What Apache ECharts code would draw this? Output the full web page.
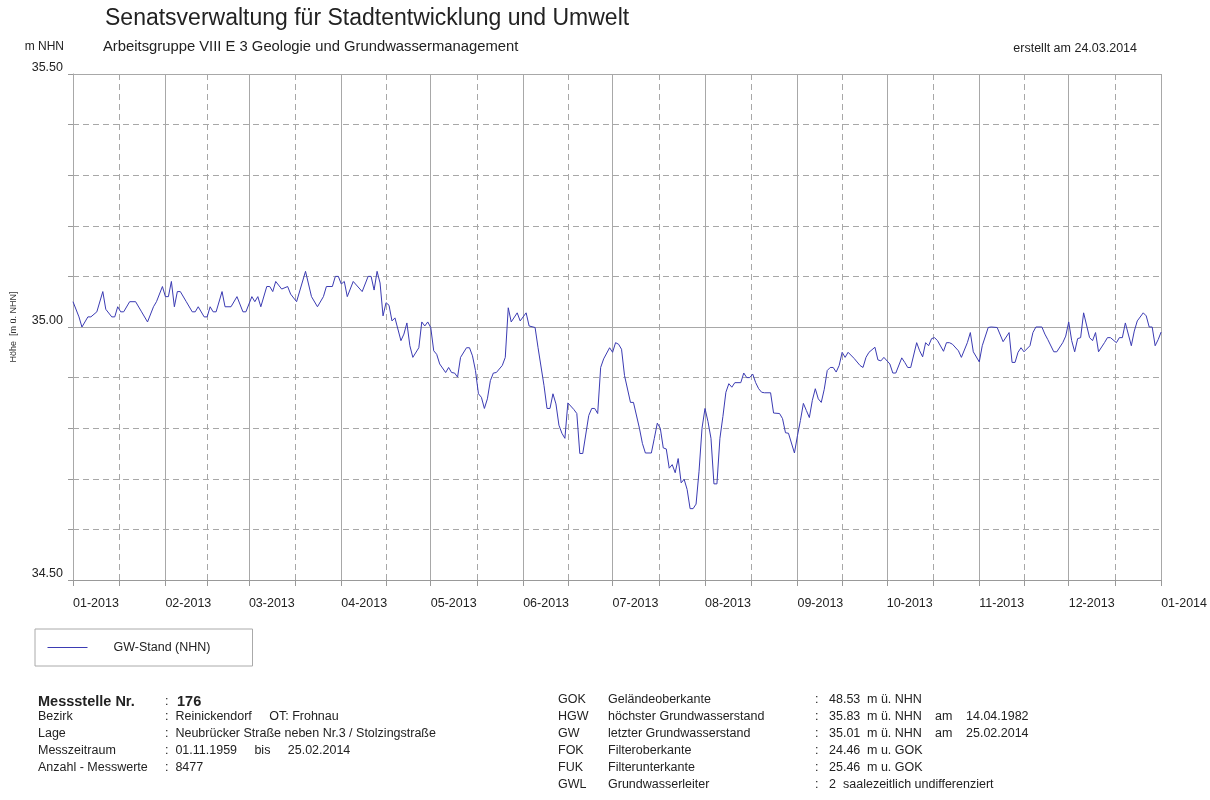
<!DOCTYPE html>
<html>
<head>
<meta charset="utf-8">
<script src="https://cdn.jsdelivr.net/npm/echarts@6/dist/echarts.min.js"></script>
<style>
html,body{margin:0;padding:0;background:#fff;}
#chart{width:1210px;height:800px;}
</style>
</head>
<body>
<div id="chart"></div>
<script>
// ---------- data ----------
const dates = [
'2013-01-01','2013-01-03','2013-01-04','2013-01-06','2013-01-07','2013-01-09','2013-01-11','2013-01-12','2013-01-14','2013-01-15',
'2013-01-16','2013-01-17','2013-01-18','2013-01-20','2013-01-22','2013-01-24','2013-01-26','2013-01-28','2013-01-29','2013-01-31',
'2013-02-01','2013-02-02','2013-02-03','2013-02-04','2013-02-05','2013-02-06','2013-02-08','2013-02-10','2013-02-11','2013-02-12',
'2013-02-14','2013-02-15','2013-02-16','2013-02-17','2013-02-18','2013-02-20','2013-02-21','2013-02-23','2013-02-25','2013-02-27',
'2013-02-28','2013-03-02','2013-03-03','2013-03-04','2013-03-05','2013-03-07','2013-03-08','2013-03-09','2013-03-10','2013-03-12',
'2013-03-14','2013-03-15','2013-03-17','2013-03-20','2013-03-22','2013-03-24','2013-03-26','2013-03-27','2013-03-29','2013-03-30',
'2013-03-31','2013-04-01','2013-04-02','2013-04-03','2013-04-05','2013-04-08','2013-04-10','2013-04-11','2013-04-12','2013-04-13',
'2013-04-14','2013-04-15','2013-04-16','2013-04-17','2013-04-18','2013-04-19','2013-04-21','2013-04-22','2013-04-23','2013-04-24',
'2013-04-25','2013-04-27','2013-04-28','2013-04-29','2013-04-30','2013-05-01','2013-05-02','2013-05-03','2013-05-04','2013-05-06',
'2013-05-07','2013-05-08','2013-05-09','2013-05-10','2013-05-11','2013-05-13','2013-05-14','2013-05-15','2013-05-16','2013-05-17',
'2013-05-18','2013-05-19','2013-05-20','2013-05-21','2013-05-22','2013-05-23','2013-05-25','2013-05-26','2013-05-27','2013-05-28',
'2013-05-30','2013-05-31','2013-06-02','2013-06-03','2013-06-05','2013-06-06','2013-06-08','2013-06-09','2013-06-10','2013-06-11',
'2013-06-12','2013-06-13','2013-06-14','2013-06-15','2013-06-16','2013-06-18','2013-06-19','2013-06-20','2013-06-21','2013-06-23',
'2013-06-24','2013-06-25','2013-06-26','2013-06-27','2013-06-28','2013-06-30','2013-07-01','2013-07-02','2013-07-03','2013-07-04',
'2013-07-05','2013-07-07','2013-07-08','2013-07-10','2013-07-11','2013-07-12','2013-07-14','2013-07-15','2013-07-16','2013-07-17',
'2013-07-18','2013-07-19','2013-07-20','2013-07-21','2013-07-22','2013-07-23','2013-07-24','2013-07-25','2013-07-26','2013-07-27',
'2013-07-28','2013-07-29','2013-07-30','2013-07-31','2013-08-01','2013-08-02','2013-08-03','2013-08-04','2013-08-05','2013-08-06',
'2013-08-07','2013-08-08','2013-08-09','2013-08-10','2013-08-11','2013-08-13','2013-08-14','2013-08-15','2013-08-16','2013-08-17',
'2013-08-18','2013-08-19','2013-08-20','2013-08-21','2013-08-23','2013-08-24','2013-08-26','2013-08-27','2013-08-28','2013-08-29',
'2013-08-31','2013-09-01','2013-09-02','2013-09-03','2013-09-04','2013-09-05','2013-09-06','2013-09-07','2013-09-08','2013-09-09',
'2013-09-10','2013-09-11','2013-09-12','2013-09-13','2013-09-14','2013-09-15','2013-09-16','2013-09-17','2013-09-18','2013-09-20',
'2013-09-22','2013-09-23','2013-09-24','2013-09-25','2013-09-27','2013-09-28','2013-09-29','2013-09-30','2013-10-02','2013-10-03',
'2013-10-04','2013-10-06','2013-10-07','2013-10-08','2013-10-09','2013-10-11','2013-10-12','2013-10-13','2013-10-14','2013-10-15',
'2013-10-16','2013-10-17','2013-10-18','2013-10-20','2013-10-21','2013-10-22','2013-10-23','2013-10-25','2013-10-26','2013-10-28',
'2013-10-29','2013-10-30','2013-11-01','2013-11-02','2013-11-04','2013-11-05','2013-11-07','2013-11-09','2013-11-11','2013-11-12',
'2013-11-13','2013-11-14','2013-11-15','2013-11-16','2013-11-18','2013-11-19','2013-11-20','2013-11-22','2013-11-23','2013-11-24',
'2013-11-26','2013-11-27','2013-11-29','2013-11-30','2013-12-01','2013-12-02','2013-12-03','2013-12-04','2013-12-05','2013-12-06',
'2013-12-08','2013-12-09','2013-12-10','2013-12-11','2013-12-13','2013-12-14','2013-12-15','2013-12-17','2013-12-18','2013-12-19',
'2013-12-20','2013-12-22','2013-12-23','2013-12-24','2013-12-26','2013-12-27','2013-12-28','2013-12-29','2013-12-30','2013-12-31',
'2014-01-01'
];
const levels = [
35.050,35.020,35.000,35.020,35.020,35.030,35.070,35.035,35.020,35.020,
35.040,35.030,35.030,35.050,35.050,35.030,35.010,35.040,35.050,35.080,
35.060,35.060,35.090,35.040,35.070,35.070,35.050,35.030,35.030,35.040,
35.020,35.020,35.040,35.030,35.030,35.070,35.040,35.040,35.060,35.030,
35.030,35.060,35.050,35.060,35.040,35.080,35.080,35.070,35.090,35.075,
35.080,35.065,35.050,35.110,35.060,35.040,35.060,35.080,35.080,35.100,
35.100,35.085,35.090,35.060,35.090,35.070,35.100,35.100,35.073,35.110,
35.087,35.022,35.048,35.043,35.012,35.018,34.973,34.986,35.008,34.963,
34.940,34.959,35.010,35.002,35.010,34.999,34.953,34.946,34.927,34.910,
34.920,34.910,34.909,34.901,34.940,34.959,34.959,34.943,34.914,34.868,
34.861,34.839,34.858,34.894,34.909,34.910,34.924,34.940,35.038,35.010,
35.028,35.012,35.028,35.002,34.999,34.959,34.884,34.839,34.839,34.868,
34.848,34.806,34.790,34.780,34.850,34.837,34.829,34.750,34.750,34.825,
34.839,34.839,34.829,34.920,34.937,34.959,34.950,34.969,34.966,34.956,
34.904,34.851,34.851,34.800,34.770,34.751,34.751,34.780,34.810,34.800,
34.761,34.759,34.721,34.728,34.712,34.740,34.692,34.699,34.679,34.641,
34.641,34.650,34.715,34.800,34.839,34.813,34.780,34.690,34.690,34.780,
34.823,34.871,34.888,34.881,34.890,34.890,34.909,34.900,34.900,34.907,
34.890,34.878,34.871,34.870,34.870,34.830,34.829,34.819,34.791,34.790,
34.751,34.785,34.815,34.849,34.835,34.821,34.855,34.878,34.858,34.851,
34.877,34.914,34.920,34.920,34.911,34.924,34.950,34.940,34.950,34.938,
34.924,34.920,34.940,34.950,34.960,34.935,34.933,34.940,34.927,34.909,
34.909,34.939,34.930,34.920,34.920,34.969,34.953,34.941,34.969,34.963,
34.977,34.979,34.973,34.952,34.969,34.969,34.966,34.953,34.940,34.969,
34.989,34.951,34.931,34.963,34.999,35.000,34.999,34.971,34.989,34.930,
34.930,34.950,34.959,34.951,34.963,34.989,35.000,35.000,34.986,34.975,
34.951,34.951,34.969,34.982,35.010,34.973,34.951,34.977,34.979,35.028,
34.979,34.973,34.989,34.951,34.969,34.979,34.979,34.969,34.979,34.979,
35.008,34.963,34.992,35.012,35.028,35.022,35.000,35.000,34.963,34.975,
34.990
];
const monthTicks = ['2013-01-01','2013-02-01','2013-03-01','2013-04-01','2013-05-01','2013-06-01',
  '2013-07-01','2013-08-01','2013-09-01','2013-10-01','2013-11-01','2013-12-01','2014-01-01'];
const yLabelValues = [34.5, 35.0, 35.5];
const seriesName = 'GW-Stand (NHN)';

const infoLeft = [
  ['Bezirk', ':  Reinickendorf     OT: Frohnau'],
  ['Lage', ':  Neubrücker Straße neben Nr.3 / Stolzingstraße'],
  ['Messzeitraum', ':  01.11.1959     bis     25.02.2014'],
  ['Anzahl - Messwerte', ':  8477']
];
const infoRight = [
  ['GOK', 'Geländeoberkante', '48.53', 'm ü. NHN', '', ''],
  ['HGW', 'höchster Grundwasserstand', '35.83', 'm ü. NHN', 'am', '14.04.1982'],
  ['GW', 'letzter Grundwasserstand', '35.01', 'm ü. NHN', 'am', '25.02.2014'],
  ['FOK', 'Filteroberkante', '24.46', 'm u. GOK', '', ''],
  ['FUK', 'Filterunterkante', '25.46', 'm u. GOK', '', ''],
  ['GWL', 'Grundwasserleiter', '2', 'saalezeitlich undifferenziert', '', '']
];

// ---------- helpers ----------
function ts(s){ const p = s.split('-').map(Number); return new Date(p[0], p[1]-1, p[2]).getTime(); }
const monthTs = monthTicks.map(ts);
const midTs = [];
for (let i = 0; i < monthTs.length - 1; i++) midTs.push((monthTs[i] + monthTs[i+1]) / 2);

const FONT = '"Liberation Sans", Arial, sans-serif';
const TXT = '#222';
const GRID = '#a8a8a8';
const LINE = '#3b3bb3';

const vLines = monthTs.map(t => ({xAxis: t, lineStyle: {type: 'solid', color: GRID, width: 1}}))
  .concat(midTs.map(t => ({xAxis: t, lineStyle: {type: [6, 4], color: GRID, width: 1}})));
const hLines = [
  {yAxis: 35.0, lineStyle: {type: 'solid', color: GRID, width: 1}},
  {yAxis: 35.5, lineStyle: {type: 'solid', color: GRID, width: 1}}
];

// ---------- graphic texts ----------
const g = [];
function txt(x, y, text, size, opts){
  g.push({type: 'text', x: x, y: y, silent: true,
    style: {text: text, font: (opts && opts.bold ? 'bold ' : '') + size + 'px ' + FONT,
      fill: TXT, verticalAlign: 'middle', align: (opts && opts.align) || 'left'}});
}
txt(105, 19, 'Senatsverwaltung für Stadtentwicklung und Umwelt', 23);
txt(103, 47, 'Arbeitsgruppe VIII E 3 Geologie und Grundwassermanagement', 14.8);
txt(1137, 49, 'erstellt am 24.03.2014', 12.5, {align: 'right'});
txt(64, 47, 'm NHN', 12, {align: 'right'});
g.push({type: 'text', x: 14, y: 327, rotation: Math.PI/2, silent: true,
  style: {text: 'Höhe  [m ü. NHN]', font: '9px ' + FONT, fill: '#333', align: 'center', verticalAlign: 'middle'}});

const FS = 12.5;
// left info block
txt(38, 702, 'Messstelle Nr.', 14.5, {bold: true});
txt(165, 702, ':', FS);
txt(177, 702, '176', 14.5, {bold: true});
infoLeft.forEach((r, i) => {
  const y = 717 + i * 17;
  txt(38, y, r[0], FS);
  txt(165, y, r[1], FS);
});
// right info block
infoRight.forEach((r, i) => {
  const y = 700 + i * 17;
  txt(558, y, r[0], FS);
  txt(608, y, r[1], FS);
  txt(815, y, ':', FS);
  txt(829, y, r[2], FS);
  txt(r[0] === 'GWL' ? 843 : 867, y, r[3], FS);
  if (r[4]) { txt(935, y, r[4], FS); txt(966, y, r[5], FS); }
});

// ---------- chart ----------
const chart = echarts.init(document.getElementById('chart'), null, {renderer: 'canvas'});
chart.setOption({
  backgroundColor: '#fff',
  animation: false,
  textStyle: {fontFamily: FONT},
  grid: {left: 73, right: 47, top: 74, bottom: 220, containLabel: false},
  legend: {
    show: true,
    data: [seriesName],
    left: 35, top: 629,
    orient: 'horizontal',
    itemWidth: 40, itemHeight: 12,
    padding: [12, 42, 12, 12],
    borderColor: '#aaa', borderWidth: 1,
    itemStyle: {opacity: 0},
    lineStyle: {color: LINE, width: 1, opacity: 1},
    textStyle: {fontFamily: FONT, fontSize: 12.5, color: TXT, padding: [0, 0, 0, 21], lineHeight: 12}
  },
  xAxis: {
    type: 'value',
    min: monthTs[0], max: monthTs[monthTs.length - 1],
    axisLine: {show: true, onZero: false, lineStyle: {color: '#999', width: 1}},
    axisTick: {show: true, customValues: monthTs.concat(midTs), length: 6, lineStyle: {color: '#999'}},
    axisLabel: {
      customValues: monthTs,
      showMinLabel: true, showMaxLabel: true,
      align: 'left', margin: 17,
      fontFamily: FONT, fontSize: 12.5, color: TXT,
      formatter: function (v) {
        const d = new Date(v);
        const m = d.getMonth() + 1;
        return (m < 10 ? '0' : '') + m + '-' + d.getFullYear();
      }
    },
    splitLine: {show: false}
  },
  yAxis: {
    type: 'value',
    min: 34.5, max: 35.5, interval: 0.1,
    axisLine: {show: true, onZero: false, lineStyle: {color: '#999', width: 1}},
    axisTick: {show: true, length: 5, lineStyle: {color: '#999'}},
    axisLabel: {
      showMinLabel: true, showMaxLabel: true,
      fontFamily: FONT, fontSize: 12.5, color: TXT, margin: 10,
      verticalAlign: 'bottom',
      formatter: function (v) {
        for (const t of yLabelValues) if (Math.abs(v - t) < 1e-6) return t.toFixed(2);
        return '';
      }
    },
    splitLine: {show: true, lineStyle: {color: GRID, type: [6, 4], width: 1}}
  },
  series: [{
    name: seriesName,
    type: 'line',
    data: dates.map((d, i) => [ts(d), levels[i]]),
    symbol: 'none',
    showSymbol: false,
    smooth: false,
    lineStyle: {color: LINE, width: 1},
    itemStyle: {color: LINE},
    z: 5,
    markLine: {
      silent: true, symbol: 'none', label: {show: false},
      animation: false,
      data: vLines.concat(hLines)
    }
  }],
  graphic: g
});
</script>
</body>
</html>
